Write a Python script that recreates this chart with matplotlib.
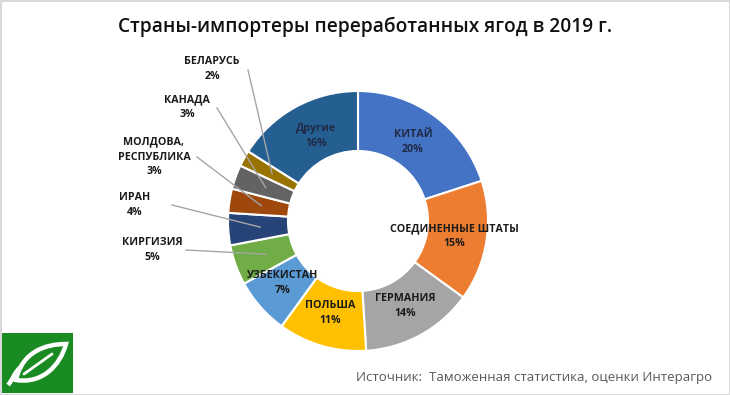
import numpy as np
import matplotlib.pyplot as plt
from matplotlib.patches import Rectangle, PathPatch
from matplotlib.path import Path

W, H = 730, 395

countries = ["КИТАЙ", "СОЕДИНЕННЫЕ ШТАТЫ", "ГЕРМАНИЯ", "ПОЛЬША", "УЗБЕКИСТАН",
             "КИРГИЗИЯ", "ИРАН", "МОЛДОВА,\nРЕСПУБЛИКА", "КАНАДА", "БЕЛАРУСЬ", "Другие"]
shares = [20, 15, 14, 11, 7, 5, 4, 3, 3, 2, 16]
colors = ["#4472C4", "#ED7D31", "#A5A5A5", "#FFC000", "#5B9BD5", "#70AD47",
          "#264478", "#9E480E", "#636363", "#997300", "#255E91"]

# label positions in pixels (x, y from top)
inside_pos = {0: (413, 142), 1: (454, 236), 2: (405, 306), 3: (330, 313),
              4: (283, 283), 10: (316, 136)}
outside_pos = {5: (152, 250), 6: (135, 205), 7: (154, 157), 8: (187, 107), 9: (212, 69)}
line_start = {5: (186, 250), 6: (172, 205), 7: (197, 157), 8: (217, 108), 9: (248, 70)}

plt.rcParams["font.family"] = ["Open Sans", "DejaVu Sans"]

fig = plt.figure(figsize=(W / 100, H / 100), dpi=100)
ax = fig.add_axes([0, 0, 1, 1])


def py(y):
    return H - y


cx, cy, R, r_in = 358, py(221), 130, 70
wedges, _ = ax.pie(shares, colors=colors, startangle=90, counterclock=False,
                   center=(cx, cy), radius=R, frame=True,
                   wedgeprops=dict(width=R - r_in, edgecolor="white", linewidth=1.5))
ax.set_xlim(0, W)
ax.set_ylim(0, H)
ax.set_aspect("equal")
ax.axis("off")

for i, w in enumerate(wedges):
    txt = f"{countries[i]}\n{shares[i]}%"
    col = "#1F2A44" if i in (0, 10) else "#1a1a1a"
    if i in inside_pos:
        x, y = inside_pos[i]
    else:
        x, y = outside_pos[i]
        ang = np.deg2rad((w.theta1 + w.theta2) / 2)
        ex, ey = cx + 98 * np.cos(ang), cy + 98 * np.sin(ang)
        sx, sy = line_start[i]
        ax.plot([sx, ex], [py(sy), ey], color="#A6A6A6", lw=1, zorder=3)
    ax.text(x, py(y), txt, ha="center", va="center", fontsize=7.7, fontweight="bold",
            color=col, linespacing=1.5)

ax.text(365, py(27), "Страны-импортеры переработанных ягод в 2019 г.", ha="center",
        va="center", fontsize=13.8, fontweight="semibold", color="#111111")
ax.text(712, py(378), "Источник:  Таможенная статистика, оценки Интерагро", ha="right",
        va="center", fontsize=9.5, color="#595959")

# logo
ax.add_patch(Rectangle((2, py(393)), 71, 60, facecolor="#1A8A22", edgecolor="none"))
leaf = Path([(16, py(380)), (22, py(352)), (45, py(344)), (66, py(344)),
             (60, py(366)), (42, py(384)), (16, py(380)), (16, py(380))],
            [Path.MOVETO, Path.CURVE4, Path.CURVE4, Path.CURVE4,
             Path.CURVE4, Path.CURVE4, Path.CURVE4, Path.CLOSEPOLY])
ax.add_patch(PathPatch(leaf, facecolor="none", edgecolor="white", lw=3.2))
stem = Path([(8, py(385)), (14, py(378)), (14, py(372)), (22, py(366))],
            [Path.MOVETO, Path.CURVE4, Path.CURVE4, Path.CURVE4])
ax.add_patch(PathPatch(stem, facecolor="none", edgecolor="white", lw=3.2))
ax.plot([24, 52], [py(374), py(354)], color="white", lw=2, solid_capstyle="round")

# frame
ax.add_patch(Rectangle((0.5, 0.5), W - 1, H - 1, facecolor="none", edgecolor="#D9D9D9", lw=1.5))

fig.savefig("out.png", dpi=100, facecolor="white")
